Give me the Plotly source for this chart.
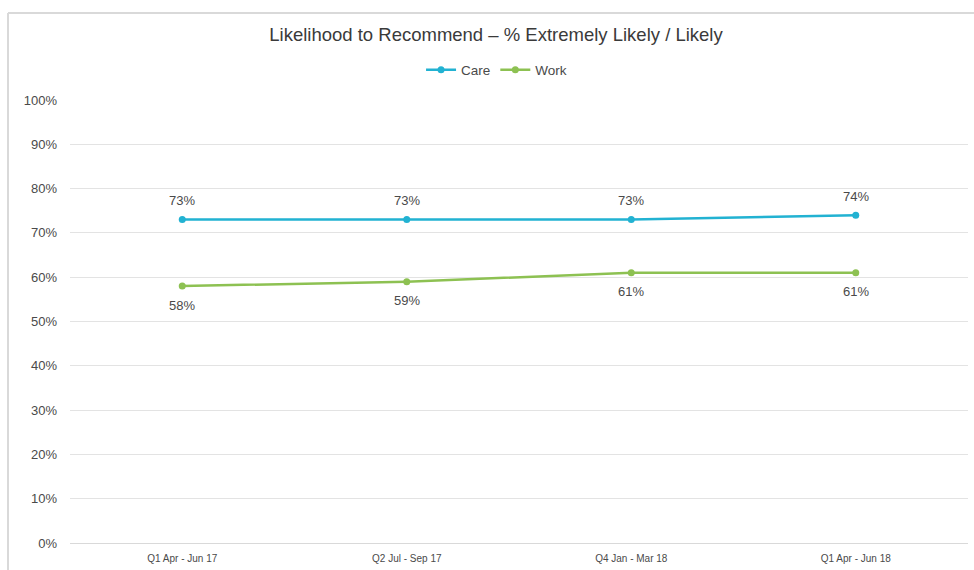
import plotly.graph_objects as go

quarters = ["Q1 Apr - Jun 17", "Q2 Jul - Sep 17", "Q4 Jan - Mar 18", "Q1 Apr - Jun 18"]
care = [73, 73, 73, 74]
work = [58, 59, 61, 61]
y_ticks = list(range(0, 101, 10))

CARE_COLOR = "#22B2D2"
WORK_COLOR = "#8DC152"
TEXT_COLOR = "#4A4A4A"
FONT = "Liberation Sans, Arial, sans-serif"

W, H = 974, 570
ML, MR, MT, MB = 70, 6, 100, 27

fig = go.Figure()
fig.add_trace(go.Scatter(
    x=quarters, y=care, name="Care", mode="lines+markers",
    line=dict(color=CARE_COLOR, width=2.5),
    marker=dict(color=CARE_COLOR, size=7),
))
fig.add_trace(go.Scatter(
    x=quarters, y=work, name="Work", mode="lines+markers",
    line=dict(color=WORK_COLOR, width=2.5),
    marker=dict(color=WORK_COLOR, size=7),
))

# value labels: Care above its points, Work below
for series, shift in ((care, 19), (work, -19)):
    for q, v in zip(quarters, series):
        fig.add_annotation(x=q, y=v, text=f"{v}%", showarrow=False,
                           yshift=shift, xanchor="center", yanchor="middle",
                           font=dict(family=FONT, size=13, color=TEXT_COLOR))

# outer frame lines (left and top edges of the chart box)
pw = W - ML - MR
ph = H - MT - MB
fx = (8 - ML) / pw
fy = 1 + (MT - 13) / ph
fy0 = 1 + (MT - H) / ph
fig.add_shape(type="line", xref="paper", yref="paper", x0=fx, x1=fx, y0=fy0, y1=fy,
              line=dict(color="#D9D9D9", width=2))
fig.add_shape(type="line", xref="paper", yref="paper", x0=fx, x1=1 + MR / pw, y0=fy, y1=fy,
              line=dict(color="#D9D9D9", width=2))

fig.update_layout(
    width=W, height=H,
    margin=dict(l=ML, r=MR, t=MT, b=MB, autoexpand=False),
    paper_bgcolor="white", plot_bgcolor="white",
    font=dict(family=FONT, color=TEXT_COLOR),
    title=dict(text="Likelihood to Recommend \u2013 % Extremely Likely / Likely",
               x=496 / W, xref="container", xanchor="center",
               y=1 - 35 / H, yanchor="middle",
               font=dict(family=FONT, size=18.5, color="#3A3A3A")),
    legend=dict(orientation="h", x=0.475, xanchor="center", y=1 + 30 / ph, yanchor="middle",
                font=dict(family=FONT, size=13.5, color=TEXT_COLOR),
                itemwidth=30, tracegroupgap=0, bgcolor="rgba(0,0,0,0)"),
    showlegend=True,
)
fig.update_xaxes(
    type="category", range=[-0.5, 3.5],
    showgrid=False, showline=True, linecolor="#D9D9D9", linewidth=1,
    ticks="", tickfont=dict(family=FONT, size=10, color=TEXT_COLOR),
    ticklabelstandoff=6,
)
fig.update_yaxes(
    range=[0, 100], tickvals=y_ticks, ticktext=[f"{v}%" for v in y_ticks],
    showgrid=True, gridcolor="#E3E3E3", gridwidth=1, zeroline=False,
    showline=False, ticks="", tickfont=dict(family=FONT, size=13, color=TEXT_COLOR),
    ticklabelstandoff=12,
)

fig.write_html("out.html")
